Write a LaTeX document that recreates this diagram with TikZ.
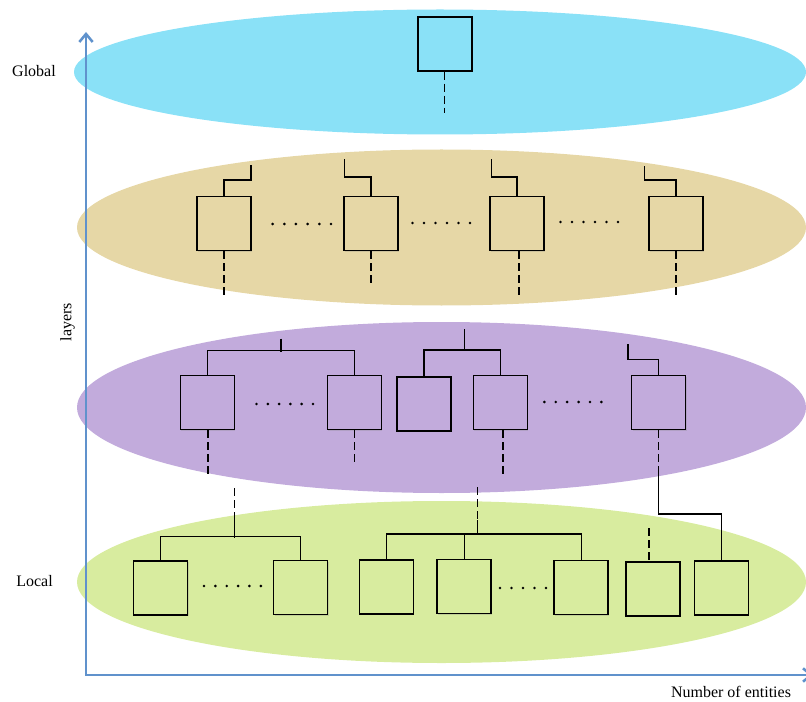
\documentclass[tikz,border=0pt]{standalone}
\usepackage{fontspec}
\setmainfont{Liberation Serif}
\usetikzlibrary{shapes.geometric,arrows.meta,shadows}
\definecolor{cglobal}{RGB}{138,225,247}
\definecolor{cmid}{RGB}{230,215,166}
\definecolor{cpurple}{RGB}{194,171,220}
\definecolor{cgreen}{RGB}{216,236,159}
\definecolor{caxis}{RGB}{96,146,204}
\begin{document}
\begin{tikzpicture}[x=0.75pt,y=-0.75pt,
  layer/.style={ellipse, draw=none, inner sep=0pt},
  box/.style={draw=black, line width=1.1pt, minimum width=40.5pt, minimum height=40.5pt, inner sep=0pt,
    drop shadow={opacity=0.25, shadow xshift=0.6pt, shadow yshift=-0.9pt}},
  wire/.style={line width=0.9pt},
  dsh/.style={wire, dash pattern=on 6pt off 3pt},
  axis/.style={caxis, line width=1.9pt, line join=miter, {Straight Barb[length=6pt,width=10pt]}-{Straight Barb[length=6pt,width=10pt]}},
  lbl/.style={font=\fontsize{12}{14}\selectfont, inner sep=0pt}]
\useasboundingbox (0,0) rectangle (806,702);
\clip (0,0) rectangle (806,702);
% layers
\node[layer, fill=cglobal, minimum width=549pt, minimum height=93.75pt] (L1) at (440,72) {};
\node[layer, fill=cmid, minimum width=546.75pt, minimum height=117pt] (L2) at (441.5,227.5) {};
\node[layer, fill=cpurple, minimum width=546.75pt, minimum height=128.25pt] (L3) at (441.5,407.5) {};
\node[layer, fill=cgreen, minimum width=546.75pt, minimum height=121.5pt] (L4) at (441.5,582) {};
% axes
\coordinate (ytop) at (86,32);
\coordinate (orig) at (86,675);
\coordinate (xr) at (813,675);
\draw[axis] (ytop) -- (orig) -- (xr);
% labels
\node[lbl] (glob) at (34,71) {Global};
\node[lbl] (loc) at (34.5,581) {Local};
\node[lbl, rotate=90] (lay) at (67.5,322) {layers};
\node[lbl] (ne) at (731,692) {Number of entities};
% layer 1
\node[box, fill=cglobal] (g) at (444.8,44) {};
\coordinate (g0) at (444.8,113);
\draw[dsh] (g.south) -- (g0);
% layer 2
\foreach \n/\x in {a1/223.9,a2/370.9,a3/517,a4/675.9}
  \node[box, fill=cmid] (\n) at (\x,223.4) {};
\coordinate (a1t) at (251,165);
\coordinate (a2t) at (344.5,159);
\coordinate (a3t) at (491.5,159.5);
\coordinate (a4t) at (644.7,165.7);
\draw[wire] (a1.north) |- (251,180) -- (a1t);
\draw[wire] (a2.north) |- (344.5,177) -- (a2t);
\draw[wire] (a3.north) |- (491.5,177) -- (a3t);
\draw[wire] (a4.north) |- (644.7,180) -- (a4t);
\coordinate (a1b) at (223.9,296);
\coordinate (a2b) at (370.9,285);
\coordinate (a3b) at (519,299);
\coordinate (a4b) at (675.9,296);
\draw[dsh] (a1.south) -- (a1b);
\draw[dsh] (a2.south) -- (a2b);
\draw[dsh] (a3b |- a3.south) -- (a3b);
\draw[dsh] (a4.south) -- (a4b);
% layer 3
\node[box, fill=cpurple] (b1) at (207.3,402.5) {};
\node[box, fill=cpurple] (b2) at (354.3,402.5) {};
\node[box, fill=cpurple] (b3) at (423.9,404) {};
\node[box, fill=cpurple] (b4) at (500.3,402.5) {};
\node[box, fill=cpurple] (b5) at (658.7,402.5) {};
\draw[wire] (b1.north) -- ++(0,-24) -| (b2.north);
\coordinate (b12t) at (281,338.7);
\draw[wire] (b12t) -- (281,351.5);
\draw[wire] (b3.north) -- ++(0,-26.3) -| (b4.north);
\coordinate (b34t) at (464.4,329);
\draw[wire] (b34t) -- (464.4,350.7);
\coordinate (b5t) at (628,344.3);
\draw[wire] (b5.north) |- (628,359.7) -- (b5t);
\coordinate (b1b) at (208,475);
\coordinate (b2b) at (354.3,464);
\coordinate (b4b) at (503,478);
\draw[dsh] (b1b |- b1.south) -- (b1b);
\draw[dsh] (b2.south) -- (b2b);
\draw[dsh] (b4b |- b4.south) -- (b4b);
% layer 4
\node[box, fill=cgreen] (c1) at (160.7,587.8) {};
\node[box, fill=cgreen] (c2) at (300.7,587.5) {};
\node[box, fill=cgreen] (c3) at (386.4,586.8) {};
\node[box, fill=cgreen] (c4) at (464.1,586.5) {};
\node[box, fill=cgreen] (c5) at (581.2,587.5) {};
\node[box, fill=cgreen] (c6) at (652.8,588.8) {};
\node[box, fill=cgreen] (c7) at (721.3,588) {};
% b5 down to c7
\coordinate (b5m) at (658.7,466);
\draw[dsh] (b5.south) -- (b5m);
\draw[wire] (b5m) -- (658.7,514) -| (c7.north);
% left tree
\draw[wire] (c1.north) -- ++(0,-23.3) -| (c2.north);
\coordinate (s1) at (234.6,488);
\coordinate (s1m) at (234.6,517);
\draw[dsh] (s1) -- (s1m);
\draw[wire] (s1m) -- (234.6,537.5);
% middle tree
\draw[wire] (c3.north) -- ++(0,-25.1) -| (c5.north);
\draw[wire] (464.1,534.7) -- (c4.north);
\coordinate (s2) at (477.2,487);
\coordinate (s2m) at (477.2,520);
\draw[dsh] (s2) -- (s2m);
\draw[wire] (s2m) -- (477.2,534.7);
% c6 dashed
\coordinate (c6t) at (649,528);
\draw[dsh] (c6t) -- (c6t |- c6.north);
% dots
\foreach \xs/\xe/\y/\k in {272.6/331/224/5, 412.5/470/223/5, 560.5/618/222/5, 256.5/313/404/5, 544.3/601.4/402/5, 204/260.8/586/5, 500/546/588/4}
  \foreach \i in {0,...,\k}
    \fill ({\xs+\i*(\xe-\xs)/\k},\y) circle (1.1pt);
\end{tikzpicture}
\end{document}
